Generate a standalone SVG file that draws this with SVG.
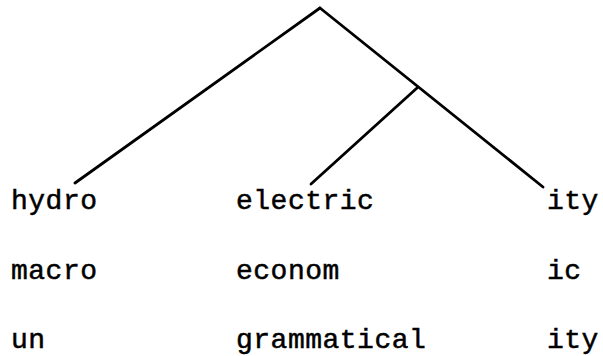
<svg xmlns="http://www.w3.org/2000/svg" width="603" height="356" viewBox="0 0 603 356">
<style>
.t{font-family:"Liberation Mono","DejaVu Sans Mono",monospace;font-size:28px;letter-spacing:0.5px;fill:#000;stroke:#000;stroke-width:0.5}
.e{stroke:#000;stroke-width:2.8;stroke-linecap:round;fill:none}
</style>
<rect width="603" height="356" fill="#fff"/>
<g id="connectors">
<line class="e" x1="320" y1="8" x2="75" y2="183"/>
<line class="e" x1="320" y1="8" x2="543" y2="187"/>
<line class="e" x1="417" y1="88" x2="311" y2="184"/>
</g>
<g id="n-hydro"><text class="t" x="11" y="209">hydro</text></g>
<g id="n-electric"><text class="t" x="236" y="209">electric</text></g>
<g id="n-ity1"><text class="t" x="547" y="209">ity</text></g>
<g id="n-macro"><text class="t" x="11" y="279">macro</text></g>
<g id="n-econom"><text class="t" x="236" y="279">econom</text></g>
<g id="n-ic"><text class="t" x="547" y="279">ic</text></g>
<g id="n-un"><text class="t" x="11" y="348">un</text></g>
<g id="n-grammatical"><text class="t" x="236" y="348">grammatical</text></g>
<g id="n-ity2"><text class="t" x="547" y="348">ity</text></g>
</svg>
